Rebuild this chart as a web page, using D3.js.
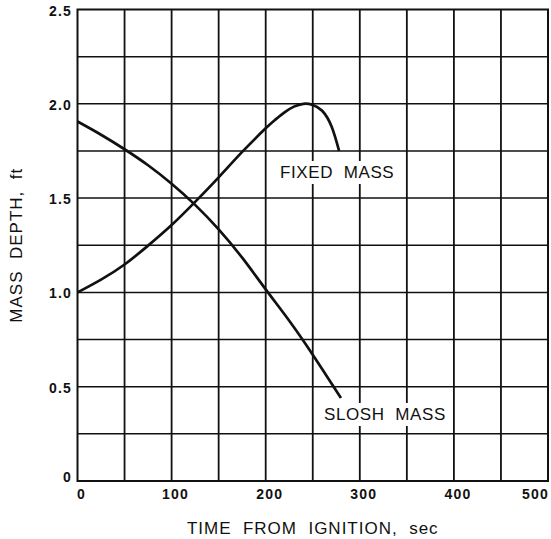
<!DOCTYPE html>
<html>
<head>
<meta charset="utf-8">
<script src="https://cdn.jsdelivr.net/npm/d3@7"></script>
<style>
  html, body { margin: 0; padding: 0; background: #fff; }
  svg { display: block; }
  text { font-family: "Liberation Sans", Arial, sans-serif; fill: #111; white-space: pre; }
</style>
</head>
<body>
<div id="chart"></div>
<script>
// time from ignition (sec) and mass depth (ft) for each mass
var fixedTime  = [0, 25, 50, 75, 100, 125, 150, 175, 200, 210, 220, 230, 240, 250, 260, 270, 278];
var fixedDepth = [1.0, 1.068, 1.148, 1.248, 1.357, 1.48, 1.61, 1.745, 1.87, 1.915, 1.955, 1.985, 2.0, 1.994, 1.963, 1.88, 1.75];

var sloshTime  = [0, 25, 50, 75, 100, 125, 150, 175, 200, 225, 250, 280];
var sloshDepth = [1.906, 1.836, 1.759, 1.674, 1.576, 1.464, 1.334, 1.184, 1.016, 0.85, 0.67, 0.44];

var xTicks = [0, 100, 200, 300, 400, 500];
var yTicks = [0, 0.5, 1.0, 1.5, 2.0, 2.5];
var yTickLabels = ['0', '0.5', '1.0', '1.5', '2.0', '2.5'];

var width = 551, height = 539;
var plotL = 77.5, plotR = 548, plotT = 9.5, plotB = 481;

var svg = d3.select('#chart').append('svg')
    .attr('width', width).attr('height', height);

var x = d3.scaleLinear().domain([0, 500]).range([plotL, plotR]);
var y = d3.scaleLinear().domain([0, 2.5]).range([plotB, plotT]);

// grid: every 50 sec and every 0.25 ft
var g = svg.append('g');
g.selectAll('line.v').data(d3.range(50, 500, 50))
  .enter().append('line')
    .attr('x1', function(d) { return x(d); }).attr('x2', function(d) { return x(d); })
    .attr('y1', plotT).attr('y2', plotB)
    .attr('stroke', '#111').attr('stroke-width', 1.8);
g.selectAll('line.h').data(d3.range(0.25, 2.5, 0.25))
  .enter().append('line')
    .attr('x1', plotL).attr('x2', plotR)
    .attr('y1', function(d) { return y(d); }).attr('y2', function(d) { return y(d); })
    .attr('stroke', '#111').attr('stroke-width', 1.5);

svg.append('rect')
    .attr('x', plotL).attr('y', plotT)
    .attr('width', plotR - plotL).attr('height', plotB - plotT)
    .attr('fill', 'none').attr('stroke', '#111').attr('stroke-width', 2);

// tick labels
svg.selectAll('text.xt').data(xTicks)
  .enter().append('text')
    .attr('x', function(d, i) { return i === xTicks.length - 1 ? x(d) + 1 : x(d) + 4; })
    .attr('y', 499)
    .attr('text-anchor', function(d, i) { return i === xTicks.length - 1 ? 'end' : 'middle'; })
    .attr('font-size', 14).attr('font-weight', 'bold').attr('letter-spacing', 1.2)
    .text(function(d) { return d; });

svg.selectAll('text.yt').data(yTicks)
  .enter().append('text')
    .attr('x', 72)
    .attr('y', function(d, i) { return y(d) + (i === 0 ? 1 : 6); })
    .attr('text-anchor', 'end')
    .attr('font-size', 14).attr('font-weight', 'bold').attr('letter-spacing', 1.2)
    .text(function(d, i) { return yTickLabels[i]; });

// axis titles
svg.append('text')
    .attr('x', (plotL + plotR) / 2).attr('y', 534)
    .attr('text-anchor', 'middle')
    .attr('font-size', 17).attr('letter-spacing', 1)
    .text('TIME  FROM  IGNITION,  sec');

svg.append('text')
    .attr('transform', 'translate(22,' + (plotT + plotB) / 2 + ') rotate(-90)')
    .attr('text-anchor', 'middle')
    .attr('font-size', 17).attr('letter-spacing', 1)
    .text('MASS  DEPTH,  ft');

// curves
var line = d3.line()
    .x(function(d) { return x(d[0]); })
    .y(function(d) { return y(d[1]); })
    .curve(d3.curveNatural);

function drawCurve(t, v) {
  svg.append('path')
      .datum(d3.zip(t, v))
      .attr('d', line)
      .attr('fill', 'none').attr('stroke', '#111').attr('stroke-width', 2.7);
}
drawCurve(fixedTime, fixedDepth);
drawCurve(sloshTime, sloshDepth);

// curve labels on a white patch
function curveLabel(str, lx, ly) {
  var t = svg.append('text')
      .attr('x', lx).attr('y', ly)
      .attr('font-size', 17).attr('letter-spacing', 0.6)
      .text(str);
  var b = t.node().getBBox();
  svg.insert('rect', function() { return t.node(); })
      .attr('x', b.x - 4).attr('y', b.y - 2)
      .attr('width', b.width + 8).attr('height', b.height + 4)
      .attr('fill', '#fff');
}
curveLabel('FIXED  MASS', 280, 178);
curveLabel('SLOSH  MASS', 324, 420);
</script>
</body>
</html>
